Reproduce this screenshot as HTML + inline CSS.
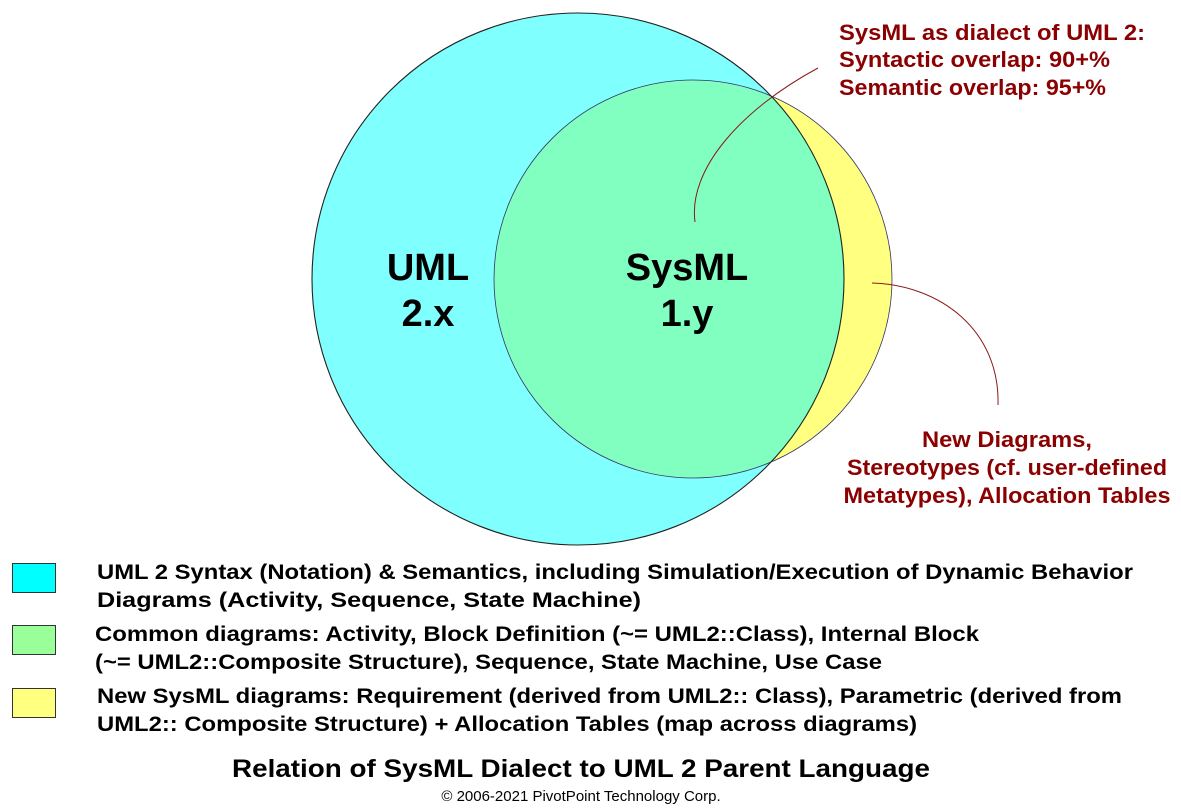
<!DOCTYPE html>
<html><head><meta charset="utf-8"><style>
html,body{margin:0;padding:0;background:#fff;}
svg{display:block;}
text{font-family:"Liberation Sans",Arial,sans-serif;font-weight:bold;}
</style></head><body>
<svg width="1181" height="811" viewBox="0 0 1181 811" xmlns="http://www.w3.org/2000/svg">
<defs>
<clipPath id="cc"><circle cx="578" cy="279" r="266"/></clipPath>
</defs>
<circle cx="578" cy="279" r="266" fill="#80ffff"/>
<circle cx="693" cy="279" r="199" fill="#ffff80"/>
<circle cx="693" cy="279" r="199" fill="#80ffc0" clip-path="url(#cc)"/>
<circle cx="693" cy="279" r="199" fill="none" stroke="#336" stroke-width="0.8"/>
<circle cx="578" cy="279" r="266" fill="none" stroke="#222" stroke-width="1.1"/>

<text x="428" y="280" font-size="38" text-anchor="middle">UML</text>
<text x="428" y="326" font-size="38" text-anchor="middle">2.x</text>
<text x="687" y="280" font-size="38" text-anchor="middle">SysML</text>
<text x="687" y="326" font-size="38" text-anchor="middle">1.y</text>

<path d="M695 222 C688 170 740 110 818 68" fill="none" stroke="#8b1a1a" stroke-width="1"/>
<path d="M872 283 C940 285 1000 330 998 405" fill="none" stroke="#8b1a1a" stroke-width="1"/>

<g fill="#8b0000" font-size="22">
<text x="839" y="40" textLength="306" lengthAdjust="spacingAndGlyphs">SysML as dialect of UML 2:</text>
<text x="839" y="67" textLength="271" lengthAdjust="spacingAndGlyphs">Syntactic overlap: 90+%</text>
<text x="839" y="95" textLength="267" lengthAdjust="spacingAndGlyphs">Semantic overlap: 95+%</text>
<text x="1007" y="447" text-anchor="middle" textLength="170" lengthAdjust="spacingAndGlyphs">New Diagrams,</text>
<text x="1007" y="475" text-anchor="middle" textLength="320" lengthAdjust="spacingAndGlyphs">Stereotypes (cf. user-defined</text>
<text x="1007" y="503" text-anchor="middle" textLength="327" lengthAdjust="spacingAndGlyphs">Metatypes), Allocation Tables</text>
</g>

<rect x="12.5" y="563.5" width="43" height="29" fill="#00ffff" stroke="#333"/>
<rect x="12.5" y="625.5" width="43" height="29" fill="#99ff99" stroke="#333"/>
<rect x="12.5" y="688.5" width="43" height="29" fill="#ffff80" stroke="#333"/>

<g font-size="21" fill="#000">
<text x="97" y="579" textLength="1036" lengthAdjust="spacingAndGlyphs">UML 2 Syntax (Notation) &amp; Semantics, including Simulation/Execution of Dynamic Behavior</text>
<text x="97" y="607" textLength="544" lengthAdjust="spacingAndGlyphs">Diagrams (Activity, Sequence, State Machine)</text>
<text x="95" y="641" textLength="884" lengthAdjust="spacingAndGlyphs">Common diagrams: Activity, Block Definition (~= UML2::Class), Internal Block</text>
<text x="95" y="669" textLength="787" lengthAdjust="spacingAndGlyphs">(~= UML2::Composite Structure), Sequence, State Machine, Use Case</text>
<text x="97" y="703" textLength="1025" lengthAdjust="spacingAndGlyphs">New SysML diagrams: Requirement (derived from UML2:: Class), Parametric (derived from</text>
<text x="97" y="731" textLength="820" lengthAdjust="spacingAndGlyphs">UML2:: Composite Structure) + Allocation Tables (map across diagrams)</text>
</g>
<text x="581" y="777" font-size="25" text-anchor="middle" textLength="698" lengthAdjust="spacingAndGlyphs">Relation of SysML Dialect to UML 2 Parent Language</text>
<text x="581" y="801" font-size="15" text-anchor="middle" style="font-weight:normal">© 2006-2021 PivotPoint Technology Corp.</text>
</svg>
</body></html>
